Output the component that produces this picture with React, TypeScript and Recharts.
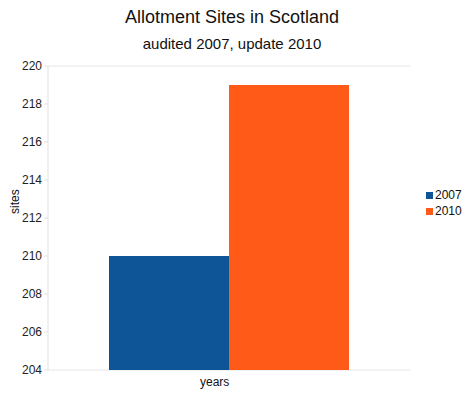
import { BarChart, Bar, XAxis, YAxis, CartesianGrid } from "recharts";

const CATEGORIES = ["years"];
const SERIES_NAMES = ["2007", "2010"];
const SITES_2007 = [210];
const SITES_2010 = [219];
const Y_TICKS = [204, 206, 208, 210, 212, 214, 216, 218, 220];
const COLORS = ["#0d5596", "#ff5a17"];

const data = CATEGORIES.map((name, i) => ({
  name,
  y2007: SITES_2007[i],
  y2010: SITES_2010[i],
}));

const font = "'Liberation Sans', Arial, Helvetica, sans-serif";

export default function App() {
  return (
    <div
      style={{
        position: "absolute",
        left: 0,
        top: 0,
        width: 464,
        height: 403,
        background: "#fff",
        fontFamily: font,
        color: "#111",
      }}
    >
      <div style={{ position: "absolute", top: 7, width: 464, textAlign: "center", fontSize: 18 }}>
        Allotment Sites in Scotland
      </div>
      <div style={{ position: "absolute", top: 35, width: 464, textAlign: "center", fontSize: 15 }}>
        audited 2007, update 2010
      </div>
      <BarChart
        width={464}
        height={403}
        data={data}
        margin={{ top: 66, right: 54, bottom: 33, left: 0 }}
        barGap={0}
        barCategoryGap="16.85%"
      >
        <CartesianGrid vertical={false} stroke="#e6e6e6" />
        <XAxis dataKey="name" height={0} tick={false} tickLine={false} axisLine={{ stroke: "#d0d0d0" }} />
        <YAxis
          yAxisId="left"
          width={48}
          domain={[204, 220]}
          ticks={Y_TICKS}
          interval={0}
          tickSize={4}
          tickLine={{ stroke: "#e0e0e0" }}
          axisLine={{ stroke: "#e0e0e0" }}
          tick={{ fill: "#222", fontSize: 12, fontFamily: font }}
        />
        <YAxis
          yAxisId="right"
          orientation="right"
          width={0}
          domain={[204, 220]}
          tick={false}
          tickLine={false}
          axisLine={{ stroke: "#e6e6e6" }}
        />
        <Bar yAxisId="left" dataKey="y2007" name={SERIES_NAMES[0]} fill={COLORS[0]} isAnimationActive={false} />
        <Bar yAxisId="left" dataKey="y2010" name={SERIES_NAMES[1]} fill={COLORS[1]} isAnimationActive={false} />
      </BarChart>
      <div
        style={{
          position: "absolute",
          left: 8,
          top: 214,
          fontSize: 12,
          transform: "rotate(-90deg)",
          transformOrigin: "left top",
        }}
      >
        sites
      </div>
      <div style={{ position: "absolute", top: 375, left: 200, fontSize: 12 }}>{CATEGORIES[0]}</div>
      <div style={{ position: "absolute", left: 426, top: 187, fontSize: 12, lineHeight: "16px" }}>
        {SERIES_NAMES.map((n, i) => (
          <div key={n} style={{ display: "flex", alignItems: "center" }}>
            <span
              style={{ display: "inline-block", width: 7, height: 7, background: COLORS[i], marginRight: 2 }}
            />
            {n}
          </div>
        ))}
      </div>
    </div>
  );
}
